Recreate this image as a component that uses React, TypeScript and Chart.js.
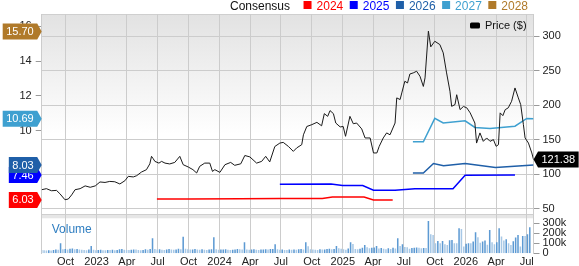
import React, { useEffect, useRef } from "react";
import { Chart, registerables } from "chart.js";

Chart.register(...registerables);

const FONT = '"Liberation Sans", Arial, Helvetica, sans-serif';

// ---------------- data ----------------
const priceDates = [
  "2022-07-22","2022-08-05","2022-08-20","2022-09-04","2022-09-14","2022-09-29","2022-10-09","2022-10-19","2022-10-29","2022-11-13",
  "2022-11-28","2022-12-13","2022-12-28","2023-01-11","2023-01-26","2023-02-09","2023-02-24","2023-03-11","2023-03-26","2023-04-05",
  "2023-04-20","2023-04-30","2023-05-14","2023-05-29","2023-06-08","2023-06-13","2023-06-18","2023-06-23","2023-07-05","2023-07-13",
  "2023-07-23","2023-08-06","2023-08-21","2023-09-05","2023-09-15","2023-09-30","2023-10-14","2023-10-25","2023-11-03","2023-11-18",
  "2023-12-03","2023-12-11","2023-12-18","2024-01-02","2024-01-17","2024-02-03","2024-02-15","2024-03-04","2024-03-16","2024-03-31",
  "2024-04-20","2024-05-05","2024-05-17","2024-05-29","2024-06-13","2024-06-28","2024-07-08","2024-07-23","2024-08-07","2024-08-17",
  "2024-09-01","2024-09-06","2024-09-16","2024-10-01","2024-10-16","2024-10-30","2024-11-07","2024-11-17","2024-11-24","2024-12-04",
  "2024-12-11","2024-12-24","2025-01-02","2025-01-09","2025-01-22","2025-02-01","2025-02-11","2025-02-26","2025-03-08","2025-03-23",
  "2025-04-02","2025-04-12","2025-04-19","2025-05-01","2025-05-11","2025-05-21","2025-06-05","2025-06-10","2025-06-20","2025-06-25",
  "2025-07-04","2025-07-12","2025-07-19","2025-07-29","2025-08-08","2025-08-18","2025-08-28","2025-09-02","2025-09-12","2025-09-19",
  "2025-10-01","2025-10-16","2025-10-26","2025-11-05","2025-11-15","2025-11-20","2025-11-30","2025-12-05","2025-12-15","2025-12-25",
  "2026-01-04","2026-01-14","2026-01-28","2026-02-02","2026-02-12","2026-02-22","2026-03-04","2026-03-14","2026-03-24","2026-04-01",
  "2026-04-08","2026-04-13","2026-04-21","2026-04-28","2026-05-07","2026-05-17","2026-05-27","2026-06-06","2026-06-13","2026-06-21",
  "2026-06-26","2026-07-06","2026-07-16","2026-07-21",
];
const priceValues = [
  77.5,79,76,76.5,71.7,63,64,70,77.5,79,
  83,81,83,88.7,88,89.5,89,85.8,90.5,96.8,
  96,97.8,103,106.5,115,125.8,122.4,118.5,116,118.5,
  116,114.8,117,125.8,113.7,110.4,106.5,101.7,111.3,116,
  116,104,106.5,102.6,113.7,117,112.8,115,127,125,
  116,118.5,125.8,117.7,140,145,146,140.3,133,138,
  142.7,157,169,171.7,175,170,187.6,183.7,192,187.6,
  174,168.4,169,154.8,183.7,173,174,165.5,152.4,152.4,
  130.7,130.7,140.3,152.4,159.7,157,174,210.4,208,217.6,
  234.5,232,245,246.6,249,241.7,227,239.4,307,284.3,
  292.4,287.6,275.6,246.6,220,198.2,200.7,215,193.4,198,
  196,188.7,174,145,159.7,147.5,152.4,147.5,150,140.3,
  142.7,188.7,184.7,193.4,196,205.5,224.8,210.4,200.7,171.7,
  152.4,145,130.7,121.38,
];

// weekly volume (thousands of shares), first bar week of 2022-07-22
const volumeStartDate = "2022-07-22";
const volumeValuesK = [
  32,30,28,31,27,33,38,36,100,40,
  42,38,45,48,40,44,38,36,34,30,
  38,73,35,30,33,36,31,30,33,32,
  35,30,33,40,42,36,34,32,36,38,
  37,33,31,34,40,36,42,150,44,38,
  40,36,34,38,42,37,35,39,45,40,
  166,46,40,37,39,42,38,35,40,36,
  34,37,41,160,40,35,37,38,40,36,
  33,36,38,42,40,37,110,39,35,38,
  40,36,34,37,39,41,38,42,44,90,
  40,36,38,34,33,37,35,39,36,40,
  42,38,110,70,40,38,36,34,40,37,
  38,42,45,40,43,73,50,45,40,36,
  48,110,93,44,40,46,55,83,60,50,
  56,58,73,48,52,45,40,50,44,55,
  48,150,73,90,62,60,45,52,55,58,
  56,50,54,52,323,190,183,100,123,100,
  123,90,83,130,133,100,100,250,243,67,
  95,100,100,117,210,160,105,117,127,85,
  233,110,90,110,250,167,127,140,100,83,
  120,157,183,67,173,173,190,260,
];

const cons2024Dates = ["2023-06-29","2023-10-01","2024-03-01","2024-07-01","2024-11-01","2024-12-01","2025-03-05","2025-04-02","2025-05-29"];
const cons2024Values = [6.09,6.09,6.1,6.11,6.12,6.2,6.2,6.03,6.03];
const cons2025Dates = ["2024-06-28","2024-11-27","2024-12-31","2025-03-01","2025-04-02","2025-06-05","2025-08-03","2025-11-24","2025-12-30","2026-05-27"];
const cons2025Values = [6.93,6.95,6.86,6.86,6.59,6.59,6.68,6.68,7.45,7.46];
const cons2026Dates = ["2025-07-28","2025-08-28","2025-09-27","2025-10-27","2025-12-30","2026-03-30","2026-07-21"];
const cons2026Values = [7.58,7.58,8.12,8.0,8.12,7.89,8.03];
const cons2027Dates = ["2025-07-28","2025-08-28","2025-10-01","2025-10-26","2025-12-30","2026-01-28","2026-03-14","2026-05-27","2026-07-01","2026-07-21"];
const cons2027Values = [9.37,9.37,10.71,10.45,10.57,10.19,10.13,10.26,10.71,10.69];
const cons2028Dates = ["2026-07-21"];
const cons2028Values = [15.7];

const consensusYears = ["2024", "2025", "2026", "2027", "2028"];
const consensusColors = ["#ff0000", "#0000ff", "#1f5fa8", "#3ea0d0", "#b07a2a"];

const xTickDates = [
  "2022-10-01","2023-01-01","2023-04-01","2023-07-01","2023-10-01","2024-01-01","2024-04-01","2024-07-01",
  "2024-10-01","2025-01-01","2025-04-01","2025-07-01","2025-10-01","2026-01-01","2026-04-01","2026-07-01",
];
const xTickLabels = ["Oct","2023","Apr","Jul","Oct","2024","Apr","Jul","Oct","2025","Apr","Jul","Oct","2026","Apr","Jul"];
const priceTicks = [50, 100, 150, 200, 250, 300];
const volumeTicksK = [0, 100, 200, 300];
const volumeTickLabels = ["0", "100k", "200k", "300k"];
const epsTicks = [6, 8, 10, 12, 14, 16];

// ---------------- axis ranges ----------------
const PRICE_MIN = -14.56;
const PRICE_MAX = 331.85;
const EPS_MIN = 2.97;
const EPS_MAX = 16.7;
const VOL_MAX = 2393;
const VOL_PANEL_TOP = 350;

const DAY0 = Date.UTC(2022, 6, 1);
const toDay = (s: string) => {
  const [y, m, d] = s.split("-").map(Number);
  return (Date.UTC(y, m - 1, d) - DAY0) / 86400000;
};

const vToP = (v: number) => PRICE_MIN + (v / VOL_MAX) * (PRICE_MAX - PRICE_MIN);
const rightTicks = [
  ...volumeTicksK.map((v, i) => ({ value: vToP(v), label: volumeTickLabels[i], grid: false })),
  ...priceTicks.map((p) => ({ value: p, label: String(p), grid: true })),
];

const consensusSeries = [
  { dates: cons2024Dates, values: cons2024Values },
  { dates: cons2025Dates, values: cons2025Values },
  { dates: cons2026Dates, values: cons2026Values },
  { dates: cons2027Dates, values: cons2027Values },
  { dates: cons2028Dates, values: cons2028Values },
];

function drawFlag(ctx: CanvasRenderingContext2D, tipX: number, y: number, text: string, color: string, side: "left" | "right") {
  ctx.save();
  ctx.font = `11px ${FONT}`;
  const tw = ctx.measureText(text).width;
  const w = tw + 7;
  const h = 16;
  const arrow = 4.5;
  ctx.beginPath();
  let l: number, r: number;
  if (side === "left") {
    r = tipX - arrow;
    l = r - w;
    ctx.moveTo(l, y - h / 2);
    ctx.lineTo(r, y - h / 2);
    ctx.lineTo(tipX, y);
    ctx.lineTo(r, y + h / 2);
    ctx.lineTo(l, y + h / 2);
  } else {
    l = tipX + arrow;
    r = l + w;
    ctx.moveTo(tipX, y);
    ctx.lineTo(l, y - h / 2);
    ctx.lineTo(r, y - h / 2);
    ctx.lineTo(r, y + h / 2);
    ctx.lineTo(l, y + h / 2);
  }
  ctx.closePath();
  ctx.fillStyle = color;
  ctx.fill();
  ctx.fillStyle = "#ffffff";
  ctx.textAlign = "center";
  ctx.textBaseline = "middle";
  ctx.fillText(text, (l + r) / 2, y + 0.5);
  ctx.restore();
}

const backgroundPlugin = {
  id: "bgPanels",
  beforeDraw(chart: any) {
    const { ctx, chartArea: a, scales } = chart;
    const volTop = scales.yVol.getPixelForValue(VOL_PANEL_TOP);
    const bandTop = volTop - 4;
    ctx.save();
    const g = ctx.createLinearGradient(0, a.top, 0, bandTop);
    g.addColorStop(0, "#e2e2e2");
    g.addColorStop(0.6, "#ffffff");
    g.addColorStop(1, "#ffffff");
    ctx.fillStyle = g;
    ctx.fillRect(a.left, a.top, a.right - a.left, bandTop - a.top);
    ctx.fillStyle = "#ffffff";
    ctx.fillRect(a.left, volTop, a.right - a.left, a.bottom - volTop);
    ctx.fillStyle = "#e6e6e6";
    ctx.fillRect(a.left, bandTop, a.right - a.left, volTop - bandTop);
    ctx.strokeStyle = "#cfcfcf";
    ctx.lineWidth = 1;
    ctx.beginPath();
    ctx.moveTo(a.left, Math.round(bandTop) + 0.5);
    ctx.lineTo(a.right, Math.round(bandTop) + 0.5);
    ctx.moveTo(a.left, Math.round(a.top) + 0.5);
    ctx.lineTo(a.right, Math.round(a.top) + 0.5);
    ctx.stroke();
    ctx.restore();
  },
};

const overlayPlugin = {
  id: "overlay",
  afterDraw(chart: any) {
    const { ctx, chartArea: a, scales } = chart;
    ctx.save();
    // top consensus legend
    ctx.font = `12px ${FONT}`;
    ctx.textBaseline = "alphabetic";
    ctx.textAlign = "left";
    let x = 230;
    ctx.fillStyle = "#111111";
    ctx.fillText("Consensus", x, 10);
    x += ctx.measureText("Consensus").width + 13.5;
    consensusYears.forEach((yr, i) => {
      ctx.fillStyle = consensusColors[i];
      ctx.fillRect(x, 1, 8, 8);
      x += 13;
      ctx.fillText(yr, x, 10);
      x += ctx.measureText(yr).width + 6.5;
    });
    // price legend
    ctx.fillStyle = "#000000";
    ctx.beginPath();
    ctx.roundRect(470, 22.5, 10, 6, 1.5);
    ctx.fill();
    ctx.font = `11px ${FONT}`;
    ctx.fillStyle = "#111111";
    ctx.textBaseline = "middle";
    ctx.fillText("Price ($)", 485, 26);
    // volume label
    const volTop = scales.yVol.getPixelForValue(VOL_PANEL_TOP);
    ctx.font = `12px ${FONT}`;
    ctx.fillStyle = "#2f7ec1";
    ctx.fillText("Volume", a.left + 10, volTop + 11);
    ctx.restore();

    // consensus flags (left)
    const eps = scales.yEps;
    consensusSeries.forEach((s, i) => {
      const v = s.values[s.values.length - 1];
      drawFlag(ctx, a.left, eps.getPixelForValue(v), v.toFixed(2), consensusColors[i], "left");
    });
    // price flag (right)
    const last = priceValues[priceValues.length - 1];
    drawFlag(ctx, a.right, scales.y.getPixelForValue(last), last.toFixed(2), "#000000", "right");
  },
};

const noPad = (s: any) => {
  s.paddingLeft = 0;
  s.paddingRight = 0;
  s.paddingTop = 0;
  s.paddingBottom = 0;
};

export default function App() {
  const ref = useRef<HTMLCanvasElement>(null);

  useEffect(() => {
    const canvas = ref.current;
    if (!canvas) return;
    const x0 = toDay(volumeStartDate);
    const volData = volumeValuesK.map((v, i) => ({ x: x0 + 7 * i, y: v }));
    const volColors = volumeValuesK.map((v, i) => (i > 0 && v > volumeValuesK[i - 1] ? "#5d9ad3" : "#a7c8e6"));

    const datasets: any[] = [
      {
        type: "line",
        label: "Price ($)",
        data: priceDates.map((d, i) => ({ x: toDay(d), y: priceValues[i] })),
        borderColor: "#1a1a1a",
        borderWidth: 1,
        pointRadius: 0,
        tension: 0,
        yAxisID: "y",
        order: 0,
      },
      ...consensusSeries.map((s, i) => ({
        type: "line",
        label: consensusYears[i],
        data: s.dates.map((d, j) => ({ x: toDay(d), y: s.values[j] })),
        borderColor: consensusColors[i],
        borderWidth: 1.5,
        pointRadius: 0,
        tension: 0,
        yAxisID: "yEps",
        order: 1,
      })),
      {
        type: "bar",
        label: "Volume",
        data: volData,
        backgroundColor: volColors,
        barPercentage: 0.65,
        categoryPercentage: 1,
        yAxisID: "yVol",
        order: 2,
      },
    ];

    const chart = new Chart(canvas, {
      type: "line",
      data: { datasets },
      options: {
        animation: false,
        responsive: false,
        maintainAspectRatio: false,
        devicePixelRatio: 1,
        layout: { padding: { top: 14, left: 0, right: 0, bottom: 0 } },
        plugins: { legend: { display: false }, tooltip: { enabled: false } },
        scales: {
          x: {
            type: "linear",
            offset: false,
            min: toDay(priceDates[0]),
            max: toDay(priceDates[priceDates.length - 1]),
            afterBuildTicks: (s: any) => {
              s.ticks = xTickDates.map((d) => ({ value: toDay(d) }));
            },
            afterFit: (s: any) => {
              s.height = 12.7;
              noPad(s);
            },
            ticks: {
              autoSkip: false,
              maxRotation: 0,
              padding: 2,
              color: "#222222",
              font: { family: FONT, size: 11 },
              callback: (_v: any, i: number) => xTickLabels[i],
            },
            grid: { color: "#cccccc", drawTicks: false, offset: false },
            border: { display: false },
          },
          y: {
            type: "linear",
            position: "right",
            min: PRICE_MIN,
            max: PRICE_MAX,
            afterBuildTicks: (s: any) => {
              s.ticks = rightTicks.map((t) => ({ value: t.value }));
            },
            afterFit: (s: any) => {
              s.width = 45.5;
              noPad(s);
            },
            ticks: {
              autoSkip: false,
              padding: 3,
              color: "#222222",
              font: { family: FONT, size: 11 },
              callback: (_v: any, i: number) => rightTicks[i].label,
            },
            grid: {
              color: (c: any) => (c.tick && c.tick.value >= 40 ? "#cccccc" : "rgba(0,0,0,0)"),
              tickColor: "#9a9a9a",
              tickLength: 6,
            },
            border: { color: "#cccccc" },
          },
          yEps: {
            type: "linear",
            position: "left",
            min: EPS_MIN,
            max: EPS_MAX,
            afterBuildTicks: (s: any) => {
              s.ticks = epsTicks.map((v) => ({ value: v }));
            },
            afterFit: (s: any) => {
              s.width = 41.7;
              noPad(s);
            },
            ticks: {
              autoSkip: false,
              padding: 4,
              color: "#222222",
              font: { family: FONT, size: 11 },
            },
            grid: { drawOnChartArea: false, tickColor: "#9a9a9a", tickLength: 6 },
            border: { color: "#cccccc" },
          },
          yVol: {
            type: "linear",
            display: false,
            min: 0,
            max: VOL_MAX,
          },
        },
      },
      plugins: [backgroundPlugin, overlayPlugin],
    } as any);

    return () => chart.destroy();
  }, []);

  return (
    <div style={{ position: "absolute", left: 0, top: 0, width: 579, height: 266, background: "#ffffff" }}>
      <canvas ref={ref} width={579} height={266} style={{ width: 579, height: 266, display: "block" }} />
    </div>
  );
}
